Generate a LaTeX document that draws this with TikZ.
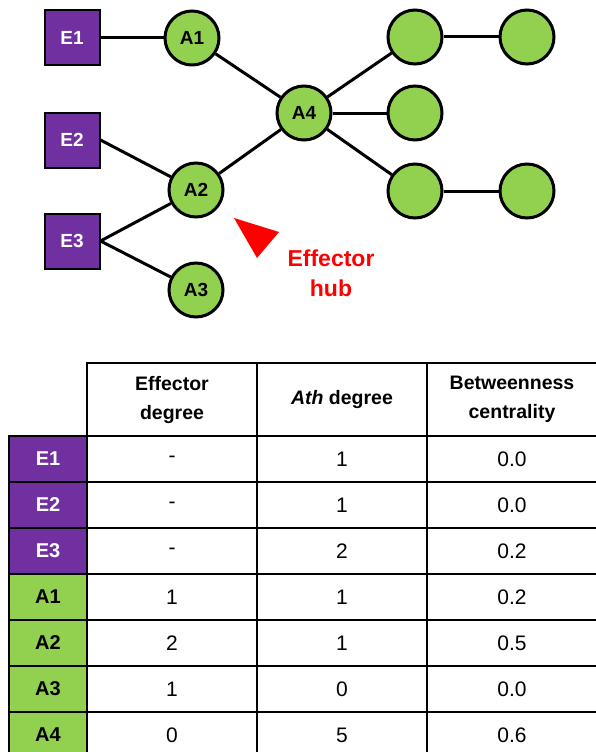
\documentclass[tikz,border=0pt]{standalone}
\usepackage{fontspec}
\setmainfont{Liberation Sans}
\definecolor{effpurple}{HTML}{7030A0}
\definecolor{athgreen}{HTML}{92D050}
\definecolor{hubred}{HTML}{FF0000}

\begin{document}
\begin{tikzpicture}[x=1pt,y=-1pt,
  effnode/.style={draw=black, line width=2pt, fill=effpurple, text=white,
    minimum size=55pt, inner sep=0pt, font={\bfseries\fontsize{19}{22}\selectfont}},
  athnode/.style={circle, draw=black, line width=3pt, fill=athgreen,
    minimum size=54pt, inner sep=0pt, font={\bfseries\fontsize{19}{22}\selectfont}},
  link/.style={line width=3pt, draw=black},
  headcell/.style={draw=black, line width=2pt, fill=white, minimum width=170pt,
    minimum height=73pt, inner sep=0pt, align=center,
    font={\bfseries\fontsize{19.5}{29}\selectfont}},
  valcell/.style={draw=black, line width=2pt, fill=white, minimum width=170pt,
    minimum height=46pt, inner sep=0pt, font={\fontsize{21}{25}\selectfont}},
  lblcell/.style={draw=black, line width=2pt, minimum width=78pt,
    minimum height=46pt, inner sep=0pt, font={\bfseries\fontsize{20}{24}\selectfont}}
]
\useasboundingbox (0,0) rectangle (595,752);

% ---- interaction network ----
\node[effnode] (E1) at (72,38) {E1};
\node[effnode] (E2) at (72,140) {E2};
\node[effnode] (E3) at (72,241) {E3};

\node[athnode] (A1) at (192,38) {A1};
\node[athnode] (A2) at (196,190) {A2};
\node[athnode] (A3) at (196,290) {A3};
\node[athnode] (A4) at (304,113) {A4};

\node[athnode] (N1) at (415,37) {};
\node[athnode] (N2) at (527,37) {};
\node[athnode] (N3) at (415,113) {};
\node[athnode] (N4) at (415,191) {};
\node[athnode] (N5) at (527,191) {};

\draw[link] (E1) -- (A1);
\draw[link] (A1) -- (A4);
\draw[link] (E2.east) -- (A2);
\draw[link] (A2) -- (A4);
\draw[link] (E3.east) -- (A2);
\draw[link] (E3.east) -- (A3);
\draw[link] (A4) -- (N1);
\draw[link] (A4) -- (N3);
\draw[link] (A4) -- (N4);
\draw[link] (N1) -- (N2);
\draw[link] (N4) -- (N5);

% hub marker
\fill[hubred] (234,218) -- (279,232) -- (257,258) -- cycle;
\node[text=hubred, align=center, font={\bfseries\fontsize{23}{30}\selectfont}]
  (hub) at (331,273) {Effector\\hub};

% ---- table ----
\node[headcell] (H1) at (172,399.5) {Effector\\degree};
\node[headcell] (H2) at (342,399.5) {\textit{Ath} degree};
\node[headcell] (H3) at (512,399.5) {Betweenness\\centrality};

\foreach \lab/\col/\txtcol/\va/\vb/\vc [count=\i] in {
  E1/effpurple/white/-/1/0.0,
  E2/effpurple/white/-/1/0.0,
  E3/effpurple/white/-/2/0.2,
  A1/athgreen/black/1/1/0.2,
  A2/athgreen/black/2/1/0.5,
  A3/athgreen/black/1/0/0.0,
  A4/athgreen/black/0/5/0.6} {
  \node[lblcell, fill=\col, text=\txtcol] (L\i) at (48,413+46*\i) {\lab};
  \node[valcell] (Ca\i) at (172,413+46*\i) {\va};
  \node[valcell] (Cb\i) at (342,413+46*\i) {\vb};
  \node[valcell] (Cc\i) at (512,413+46*\i) {\vc};
}
\end{tikzpicture}
\end{document}
